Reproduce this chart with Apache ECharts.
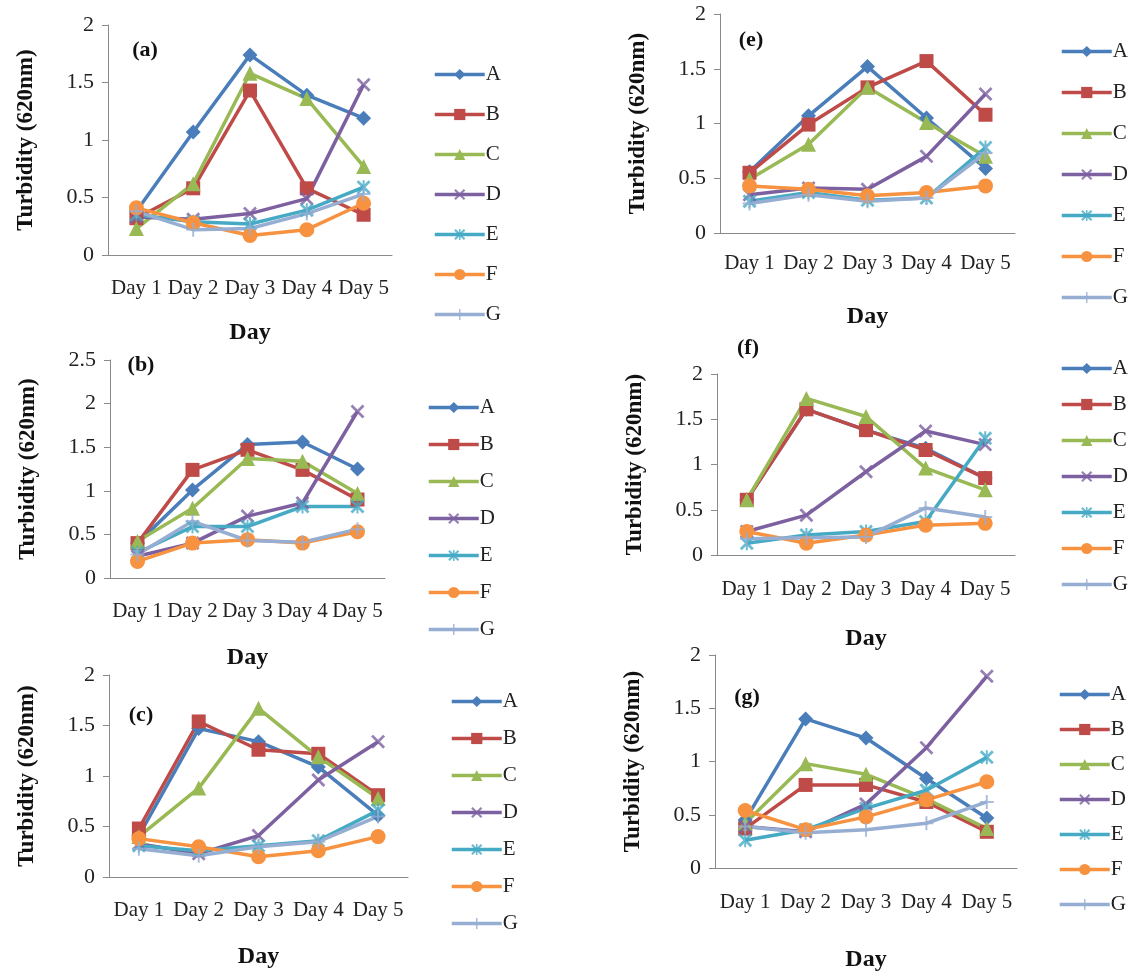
<!DOCTYPE html>
<html>
<head>
<meta charset="utf-8">
<title>Turbidity</title>
<script src="https://cdn.jsdelivr.net/npm/echarts@6/dist/echarts.min.js"></script>
<style>
  body { margin: 0; background: #fff; }
  .chart { width: 1129px; height: 973px; }
</style>
</head>
<body>
<div class="chart"></div>
<script>
// categories
var days = ["Day 1", "Day 2", "Day 3", "Day 4", "Day 5"];
var strains = ["A", "B", "C", "D", "E", "F", "G"];
var yTicks = [0, 0.5, 1, 1.5, 2, 2.5];

// values per panel, one row per strain A..G
var panelA = [
  [0.38, 1.07, 1.74, 1.39, 1.19],
  [0.32, 0.58, 1.43, 0.58, 0.35],
  [0.23, 0.62, 1.58, 1.36, 0.77],
  [0.33, 0.31, 0.36, 0.49, 1.48],
  [0.35, 0.29, 0.27, 0.39, 0.59],
  [0.41, 0.28, 0.17, 0.22, 0.45],
  [0.38, 0.22, 0.23, 0.36, 0.53]
];
var panelB = [
  [0.40, 1.01, 1.53, 1.56, 1.25],
  [0.40, 1.24, 1.47, 1.24, 0.90],
  [0.42, 0.80, 1.37, 1.34, 0.97],
  [0.25, 0.40, 0.71, 0.86, 1.91],
  [0.29, 0.59, 0.59, 0.82, 0.82],
  [0.19, 0.40, 0.44, 0.40, 0.53],
  [0.27, 0.65, 0.43, 0.41, 0.56]
];
var panelC = [
  [0.41, 1.47, 1.34, 1.09, 0.61],
  [0.48, 1.54, 1.26, 1.22, 0.81],
  [0.40, 0.88, 1.67, 1.19, 0.78],
  [0.33, 0.23, 0.41, 0.96, 1.34],
  [0.31, 0.26, 0.31, 0.36, 0.66],
  [0.38, 0.30, 0.20, 0.26, 0.40],
  [0.28, 0.21, 0.30, 0.35, 0.60]
];
var panelE = [
  [0.56, 1.07, 1.52, 1.05, 0.59],
  [0.55, 0.99, 1.33, 1.57, 1.08],
  [0.49, 0.81, 1.33, 1.01, 0.70],
  [0.35, 0.41, 0.40, 0.70, 1.27],
  [0.29, 0.37, 0.30, 0.32, 0.78],
  [0.43, 0.40, 0.34, 0.37, 0.43],
  [0.27, 0.35, 0.29, 0.32, 0.73]
];
var panelF = [
  [0.61, 1.61, 1.38, 1.18, 0.85],
  [0.61, 1.61, 1.38, 1.16, 0.85],
  [0.61, 1.73, 1.53, 0.96, 0.72],
  [0.26, 0.44, 0.92, 1.37, 1.22],
  [0.13, 0.22, 0.26, 0.37, 1.29],
  [0.26, 0.13, 0.22, 0.33, 0.35],
  [0.18, 0.19, 0.20, 0.52, 0.42]
];
var panelG = [
  [0.45, 1.40, 1.22, 0.84, 0.47],
  [0.37, 0.78, 0.78, 0.62, 0.34],
  [0.42, 0.98, 0.88, 0.65, 0.37],
  [0.39, 0.34, 0.60, 1.13, 1.80],
  [0.26, 0.36, 0.56, 0.73, 1.04],
  [0.54, 0.36, 0.48, 0.64, 0.81],
  [0.39, 0.33, 0.36, 0.42, 0.62]
];

(function () {
  var myChart = echarts.init(document.querySelector(".chart"));

  var font = "Liberation Serif";
  var colors = ["#4a7ebb", "#be4b48", "#98b954", "#7d60a0", "#46aac5", "#f69240", "#97aed3"];
  // excel style markers
  var xMark = "path://M0,1.4L1.4,0L10,8.6L8.6,10ZM8.6,0L10,1.4L1.4,10L0,8.6Z";
  var starMark = "path://M0,1.4L1.4,0L10,8.6L8.6,10ZM8.6,0L10,1.4L1.4,10L0,8.6ZM4.3,0L5.7,0L5.7,10L4.3,10Z";
  var plusMark = "path://M4.3,0L5.7,0L5.7,10L4.3,10ZM0,4.3L10,4.3L10,5.7L0,5.7Z";
  var symbols = ["diamond", "rect", "triangle", xMark, starMark, "circle", plusMark];
  var sizes = [15, 14, 15, 14, 14, 15, 14];

  // layout of the six panels
  var panels = [
    { tag: "(a)", data: panelA, max: 2, grid: [108, 25, 284, 230], mark: [145, 50], legend: [428, 59, 19], margin: 23, xGap: 66 },
    { tag: "(b)", data: panelB, max: 2.5, grid: [110, 360, 275, 218], mark: [141, 365], legend: [422, 392, 16], margin: 23, xGap: 68 },
    { tag: "(c)", data: panelC, max: 2, grid: [109, 675, 299, 202], mark: [141, 715], legend: [445, 686, 16], margin: 23, xGap: 68 },
    { tag: "(e)", data: panelE, max: 2, grid: [720, 14, 295, 219], mark: [751, 40], legend: [1055, 36, 20], margin: 20, xGap: 72 },
    { tag: "(f)", data: panelF, max: 2, grid: [717, 374, 298, 181], mark: [748, 348], legend: [1055, 353, 15], margin: 24, xGap: 72 },
    { tag: "(g)", data: panelG, max: 2, grid: [715, 655, 302, 215], mark: [747, 697], legend: [1053, 679, 14], margin: 24, xGap: 80 }
  ];

  var option = {
    animation: false,
    textStyle: { fontFamily: font },
    grid: [],
    xAxis: [],
    yAxis: [],
    legend: [],
    series: [],
    graphic: []
  };

  panels.forEach(function (p, i) {
    option.grid.push({ left: p.grid[0], top: p.grid[1], width: p.grid[2], height: p.grid[3] });

    option.xAxis.push({
      type: "category",
      gridIndex: i,
      data: days,
      name: "Day",
      nameLocation: "middle",
      nameGap: p.xGap,
      nameTextStyle: { fontFamily: font, fontSize: 24, fontWeight: "bold", color: "#111" },
      axisLine: { lineStyle: { color: "#8a8a8a" } },
      axisTick: { length: 6, lineStyle: { color: "#8a8a8a" } },
      axisLabel: { interval: 0, margin: p.margin, fontFamily: font, fontSize: 21, color: "#222" }
    });

    option.yAxis.push({
      type: "value",
      gridIndex: i,
      min: 0,
      max: p.max,
      interval: 0.5,
      name: "Turbidity (620nm)",
      nameLocation: "middle",
      nameRotate: 90,
      nameGap: 70,
      nameTextStyle: { fontFamily: font, fontSize: 23, fontWeight: "bold", color: "#111" },
      axisLine: { show: true, lineStyle: { color: "#8a8a8a" } },
      axisTick: { show: true, length: 6, lineStyle: { color: "#8a8a8a" } },
      splitLine: { show: false },
      axisLabel: {
        margin: 14,
        fontFamily: font,
        fontSize: 22,
        color: "#222",
        formatter: function (v) {
          return yTicks.indexOf(v) > -1 ? String(v) : "";
        }
      }
    });

    option.legend.push({
      orient: "vertical",
      left: p.legend[0],
      top: p.legend[1],
      itemGap: p.legend[2],
      itemWidth: 50,
      itemHeight: 14,
      selectedMode: false,
      data: strains,
      lineStyle: { width: 3.5 },
      textStyle: { fontFamily: font, fontSize: 21, color: "#222", padding: [0, 0, 0, -4] }
    });

    strains.forEach(function (s, j) {
      option.series.push({
        name: s,
        type: "line",
        xAxisIndex: i,
        yAxisIndex: i,
        data: p.data[j],
        symbol: symbols[j],
        symbolSize: sizes[j],
        showAllSymbol: true,
        lineStyle: { width: 3.5, color: colors[j] },
        itemStyle: { color: colors[j], opacity: j === 3 || j === 4 || j === 6 ? 0.8 : 1 }
      });
    });

    option.graphic.push({
      type: "text",
      x: p.mark[0],
      y: p.mark[1],
      style: {
        text: p.tag,
        font: "bold 22px " + font,
        fill: "#111",
        align: "center",
        verticalAlign: "middle"
      }
    });
  });

  myChart.setOption(option);
  window.addEventListener("resize", function () {
    myChart.resize();
  });
})();
</script>
</body>
</html>
